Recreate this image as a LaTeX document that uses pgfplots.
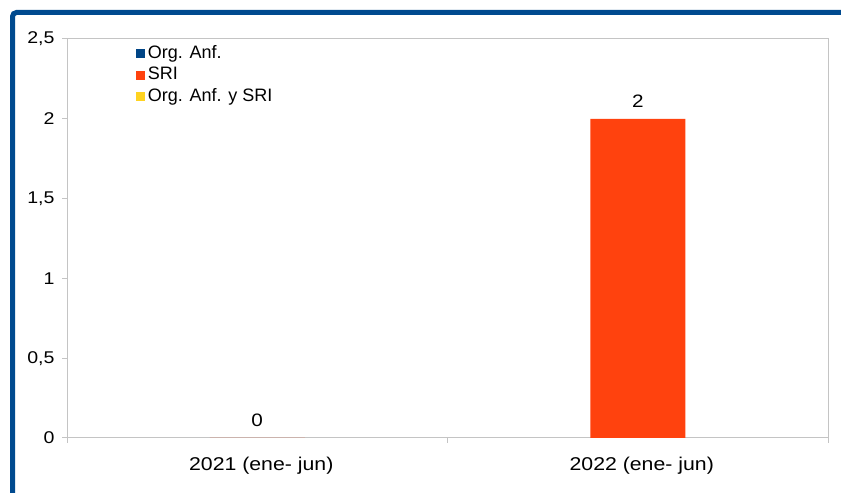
\documentclass[border=0pt]{standalone}
\usepackage{pgfplots}
\pgfplotsset{compat=1.18}
\usepackage{fontspec}
\setmainfont[FakeStretch=1.15]{Liberation Sans}
\newfontfamily\legfont{Liberation Sans}
\definecolor{frameblue}{HTML}{004A8F}
\definecolor{cblue}{HTML}{004586}
\definecolor{corange}{HTML}{FF420E}
\definecolor{cyellow}{HTML}{FFD320}
\definecolor{axgray}{HTML}{C4C4C4}
\begin{document}
\begin{tikzpicture}[x=1bp,y=1bp]
\useasboundingbox (0,0) rectangle (841,493);
\fill[white] (0,0) rectangle (841,493);
\draw[frameblue, line width=5bp, rounded corners=4bp] (12.5,-5) -- (12.5,480.5) -- (850,480.5);
\begin{axis}[
  at={(67bp,55bp)}, anchor=south west,
  scale only axis, width=761bp, height=399bp,
  xmin=-0.5, xmax=1.5, ymin=0, ymax=2.5,
  axis line style={axgray, line width=1bp},
  tick style={axgray, line width=1bp},
  tick align=outside, major tick length=5bp,
  xtick pos=bottom, ytick pos=left,
  xtick={-0.5,0.5,1.5}, xticklabels={},
  extra x ticks={0,1},
  extra x tick labels={2021 (ene- jun),2022 (ene- jun)},
  extra x tick style={major tick length=0pt},
  xticklabel style={font=\fontsize{18.5bp}{22bp}\selectfont, text=black, yshift=-16bp, xshift=4bp},
  ytick={0,0.5,1,1.5,2,2.5},
  yticklabel style={font=\fontsize{17bp}{20bp}\selectfont, text=black, xshift=-4bp},
  /pgf/number format/assume math mode=true,
  /pgf/number format/use comma,
  legend style={at={(0.091,0.99)}, anchor=north west, draw=none, fill=none,
    font=\legfont\fontsize{18bp}{21bp}\selectfont, row sep=0pt, inner sep=0pt,
    nodes={inner sep=2.5bp, text height=12.5bp, text depth=4bp}},
  legend cell align=left,
  legend image code/.code={\fill[draw=none,#1] (0bp,-4.5bp) rectangle (9bp,4.5bp);},
  nodes near coords,
  every node near coord/.append style={font=\fontsize{18bp}{21bp}\selectfont, text=black, anchor=south, yshift=8bp},
]
\addlegendimage{fill=cblue}
\addlegendentry{Org. Anf.}
\addplot[ybar, bar width=95bp, fill=corange, draw=none] coordinates {(0,0) (1,2)};
\addlegendentry{SRI}
\addlegendimage{fill=cyellow}
\addlegendentry{Org. Anf. y SRI}
\end{axis}
\end{tikzpicture}
\end{document}
